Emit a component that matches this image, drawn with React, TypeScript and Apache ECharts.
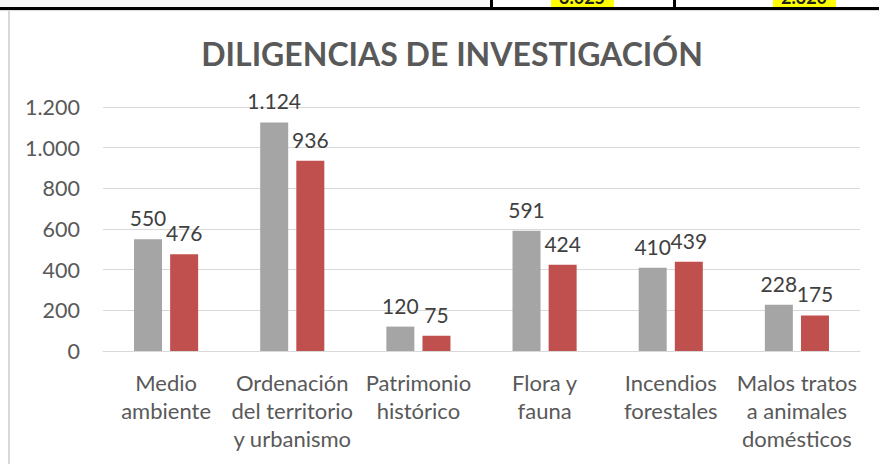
import React, { useEffect, useRef } from "react";
import * as echarts from "echarts";

const categories = [
  "Medio\nambiente",
  "Ordenación\ndel territorio\ny urbanismo",
  "Patrimonio\nhistórico",
  "Flora y\nfauna",
  "Incendios\nforestales",
  "Malos tratos\na animales\ndomésticos",
];
const seriesA = [550, 1124, 120, 591, 410, 228];
const seriesB = [476, 936, 75, 424, 439, 175];
const yTicks = { min: 0, max: 1200, interval: 200 };
const titleText = "DILIGENCIAS DE INVESTIGACIÓN";
const tableNumbers = ["3.025", "2.320"];

const FONT = "Lato";
const fmt = (v: number) => String(v).replace(/\B(?=(\d{3})+(?!\d))/g, ".");

export default function App() {
  const ref = useRef<HTMLDivElement>(null);
  useEffect(() => {
    document.body.style.margin = "0";
    const chart = echarts.init(ref.current!, undefined, { renderer: "svg" });
    const label = {
      show: true,
      position: "top" as const,
      distance: 11,
      color: "#404040",
      fontFamily: FONT,
      fontSize: 21,
      formatter: (p: any) => fmt(p.value),
    };
    chart.setOption({
      animation: false,
      backgroundColor: "#ffffff",
      title: {
        text: titleText,
        left: 447,
        textAlign: "center",
        top: 32,
        textStyle: { fontFamily: FONT, fontWeight: "bold", fontSize: 32, color: "#595959" },
      },
      grid: { left: 103, right: 19, top: 107, bottom: 113, containLabel: false },
      xAxis: {
        type: "category",
        data: categories,
        axisLine: { lineStyle: { color: "#d9d9d9", width: 1 } },
        axisTick: { show: false },
        axisLabel: {
          interval: 0,
          margin: 17,
          lineHeight: 28,
          color: "#595959",
          fontFamily: FONT,
          fontSize: 22,
        },
      },
      yAxis: {
        type: "value",
        min: yTicks.min,
        max: yTicks.max,
        interval: yTicks.interval,
        axisLine: { show: false },
        axisTick: { show: false },
        splitLine: { lineStyle: { color: "#d9d9d9", width: 1 } },
        axisLabel: {
          margin: 23,
          color: "#595959",
          fontFamily: FONT,
          fontSize: 21.5,
          formatter: (v: number) => fmt(v),
        },
      },
      series: [
        {
          type: "bar",
          data: seriesA,
          barWidth: 28,
          barGap: "29%",
          itemStyle: { color: "#a5a5a5" },
          label,
        },
        {
          type: "bar",
          data: seriesB,
          barWidth: 28,
          itemStyle: { color: "#c0504d" },
          label,
        },
      ],
      graphic: [
        { type: "rect", shape: { x: 0, y: 0, width: 490, height: 7 }, style: { fill: "#f7f7f7" }, silent: true },
        { type: "rect", shape: { x: 551, y: 0, width: 63, height: 7 }, style: { fill: "#ffff00" }, silent: true },
        { type: "rect", shape: { x: 773, y: 0, width: 63, height: 7 }, style: { fill: "#ffff00" }, silent: true },
        {
          type: "text",
          x: 582,
          y: -12,
          style: { text: tableNumbers[0], fill: "#202020", fontFamily: FONT, fontWeight: "bold", fontSize: 18, align: "center" },
          silent: true,
        },
        {
          type: "text",
          x: 804,
          y: -12,
          style: { text: tableNumbers[1], fill: "#202020", fontFamily: FONT, fontWeight: "bold", fontSize: 18, align: "center" },
          silent: true,
        },
        { type: "rect", shape: { x: 490, y: 0, width: 3, height: 8 }, style: { fill: "#000" }, silent: true },
        { type: "rect", shape: { x: 673, y: 0, width: 3, height: 8 }, style: { fill: "#000" }, silent: true },
        { type: "rect", shape: { x: 0, y: 7, width: 879, height: 3 }, style: { fill: "#000" }, silent: true },
        { type: "rect", shape: { x: 0, y: 10, width: 879, height: 1 }, style: { fill: "#dcdcdc" }, silent: true },
        { type: "rect", shape: { x: 8, y: 10, width: 2, height: 454 }, style: { fill: "#d9d9d9" }, silent: true },
      ],
    });
    return () => chart.dispose();
  }, []);
  return <div ref={ref} style={{ position: "fixed", left: 0, top: 0, width: 879, height: 464 }} />;
}
